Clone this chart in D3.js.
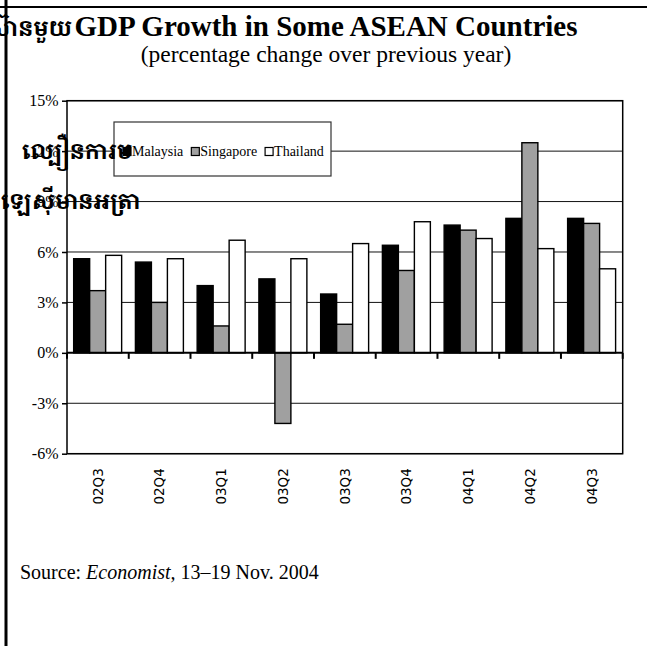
<!DOCTYPE html>
<html><head><meta charset="utf-8">
<script src="https://cdn.jsdelivr.net/npm/d3@7"></script>
<style>body{margin:0;background:#fff}svg{display:block}</style>
</head><body>
<script>
const categories = ["02Q3","02Q4","03Q1","03Q2","03Q3","03Q4","04Q1","04Q2","04Q3"];
const seriesNames = ["Malaysia","Singapore","Thailand"];
const malaysia  = [5.6, 5.4, 4.0, 4.4, 3.5, 6.4, 7.6, 8.0, 8.0];
const singapore = [3.7, 3.0, 1.6, -4.2, 1.7, 4.9, 7.3, 12.5, 7.7];
const thailand  = [5.8, 5.6, 6.7, 5.6, 6.5, 7.8, 6.8, 6.2, 5.0];
const seriesColors = ["#000000","#a0a0a0","#ffffff"];
const yTicks = [-6,-3,0,3,6,9,12,15];
const title = "GDP Growth in Some ASEAN Countries";
const subtitle = "(percentage change over previous year)";
const khmerTop = "អាស៊ានមួយ";
const khmerLine1 = "ល្បឿនការម";
const khmerLine2 = "ឡេស៊ីមានអត្រា";

const W = 647, H = 646;
const serif = "'Liberation Serif','Times New Roman',serif";
const khmerFont = "'Khmer OS','Khmer OS System','Noto Serif Khmer','Noto Sans Khmer',serif";
const svg = d3.select("body").append("svg").attr("width", W).attr("height", H);

const values = [malaysia, singapore, thailand];
const table = categories.map((c, i) => ({cat: c, vals: seriesNames.map((s, j) => ({name: s, v: values[j][i], color: seriesColors[j]}))}));

const x = d3.scaleBand().domain(categories).range([67, 622.7]).padding(0);
const bw = x.bandwidth();
const xi = d3.scaleBand().domain(seriesNames).range([bw * 0.108, bw * 0.885]).padding(0);
const y = d3.scaleLinear().domain([-6, 15]).range([453.7, 100.7]);

// page frame
svg.append("line").attr("x1", 0).attr("x2", W).attr("y1", 7).attr("y2", 7).attr("stroke", "#000").attr("stroke-width", 2);
svg.append("line").attr("x1", 6).attr("x2", 6).attr("y1", 0).attr("y2", H).attr("stroke", "#000").attr("stroke-width", 3);

// title
svg.append("text").attr("x", 326).attr("y", 36).attr("text-anchor", "middle")
  .style("font-family", serif).style("font-weight", "bold").style("font-size", "29px").text(title);
svg.append("text").attr("x", 326).attr("y", 62).attr("text-anchor", "middle")
  .style("font-family", serif).style("font-size", "23.5px").text(subtitle);

// gridlines
svg.append("g").selectAll("line").data(yTicks.filter(t => t !== 0)).join("line")
  .attr("x1", x.range()[0]).attr("x2", x.range()[1])
  .attr("y1", d => y(d)).attr("y2", d => y(d))
  .attr("stroke", "#111").attr("stroke-width", 1);

// bars
const g = svg.append("g").selectAll("g").data(table).join("g")
  .attr("transform", d => `translate(${x(d.cat)},0)`);
g.selectAll("rect").data(d => d.vals).join("rect")
  .attr("x", d => xi(d.name)).attr("width", xi.bandwidth())
  .attr("y", d => y(Math.max(0, d.v))).attr("height", d => Math.abs(y(d.v) - y(0)))
  .attr("fill", d => d.color).attr("stroke", "#000").attr("stroke-width", 1.4);

// plot frame
svg.append("rect").attr("x", x.range()[0]).attr("y", y(15)).attr("width", x.range()[1] - x.range()[0])
  .attr("height", y(-6) - y(15)).attr("fill", "none").attr("stroke", "#000").attr("stroke-width", 1.5);

// y axis
const ya = svg.append("g").attr("transform", `translate(${x.range()[0]},0)`)
  .call(d3.axisLeft(y).tickValues(yTicks).tickFormat(d => d + "%").tickSize(5).tickPadding(3.5));
ya.attr("font-family", null).attr("font-size", null);
ya.select(".domain").remove();
ya.selectAll(".tick line").attr("stroke", "#000").attr("stroke-width", 1.5);
ya.selectAll("text").style("font-family", serif).style("font-size", "16px").attr("fill", "#000");

// zero axis with boundary ticks
svg.append("line").attr("x1", x.range()[0]).attr("x2", x.range()[1]).attr("y1", y(0)).attr("y2", y(0))
  .attr("stroke", "#000").attr("stroke-width", 2);
const bounds = categories.map(c => x(c)).concat([x.range()[1]]);
svg.append("g").selectAll("line").data(bounds).join("line")
  .attr("x1", d => d).attr("x2", d => d).attr("y1", y(0)).attr("y2", y(0) + 6)
  .attr("stroke", "#000").attr("stroke-width", 2);

// category labels
svg.append("g").selectAll("text").data(categories).join("text")
  .attr("transform", d => `translate(${x(d) + bw / 2},${y(-6) + 14.5}) rotate(-90)`)
  .attr("text-anchor", "end").attr("dy", "0.36em")
  .style("font-family", "'DejaVu Sans',Verdana,sans-serif").style("font-size", "13.5px").text(d => d);

// legend
const lg = svg.append("g");
lg.append("rect").attr("x", 114).attr("y", 122).attr("width", 217).attr("height", 54)
  .attr("fill", "#fff").attr("stroke", "#333").attr("stroke-width", 1.2);
let lx = 123;
seriesNames.forEach((s, j) => {
  lg.append("rect").attr("x", lx).attr("y", 147.5).attr("width", 8).attr("height", 8)
    .attr("fill", seriesColors[j]).attr("stroke", "#000").attr("stroke-width", 1.2);
  const t = lg.append("text").attr("x", lx + 9).attr("y", 156).style("font-family", serif)
    .style("font-size", "14px").text(s);
  lx += 9 + t.node().getComputedTextLength() + 8;
});

// Khmer overlay text
svg.append("text").attr("x", 72).attr("y", 36).attr("text-anchor", "end")
  .style("font-family", khmerFont).style("font-weight", "bold").style("font-size", "22px").text(khmerTop);
svg.append("text").attr("x", 22).attr("y", 159)
  .style("font-family", khmerFont).style("font-weight", "bold").style("font-size", "22px").text(khmerLine1);
svg.append("text").attr("x", 1).attr("y", 209)
  .style("font-family", khmerFont).style("font-weight", "bold").style("font-size", "22px").text(khmerLine2);

// source
const src = svg.append("text").attr("x", 20).attr("y", 579).style("font-family", serif).style("font-size", "20px");
src.append("tspan").text("Source: ");
src.append("tspan").style("font-style", "italic").text("Economist,");
src.append("tspan").text(" 13–19 Nov. 2004");
</script>
</body></html>
